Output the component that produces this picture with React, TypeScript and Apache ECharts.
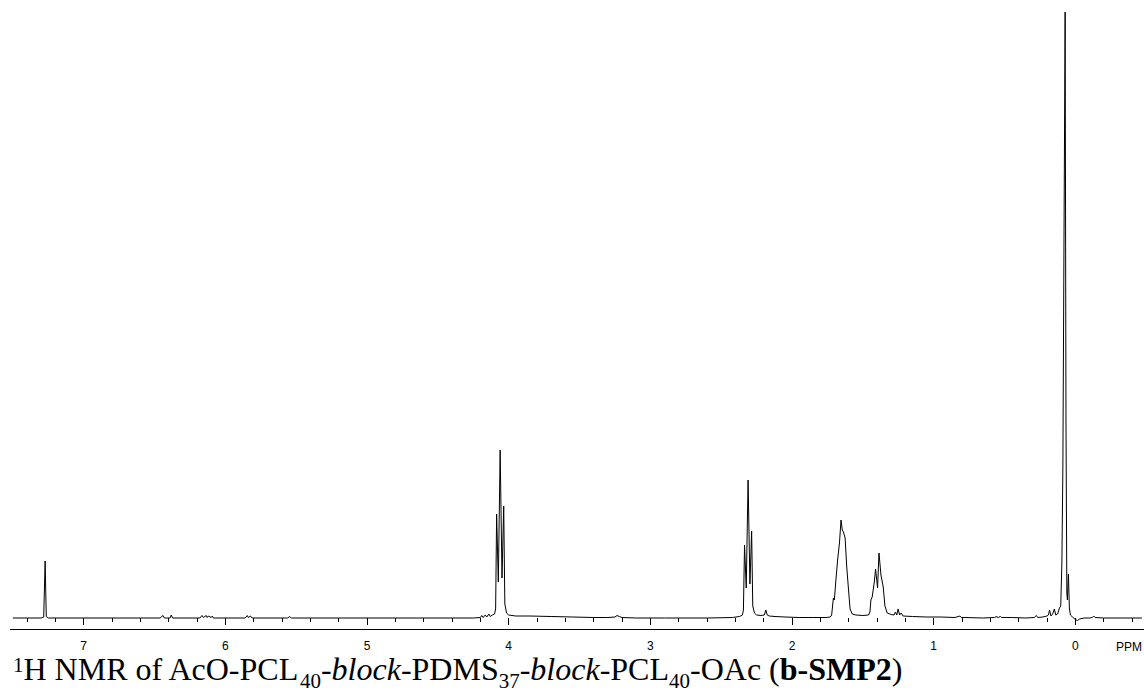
import React, { useEffect, useRef } from "react";
import * as echarts from "echarts";

// Chemical shift (ppm) and intensity (baseline = 0)
const shifts = [
  7.5, 7.3, 7.282, 7.272, 7.264, 7.25,
  6.46, 6.44, 6.43, 6.39, 6.382, 6.372,
  6.18, 6.165, 6.155, 6.135, 6.128, 6.12, 6.1, 6.092, 6.084,
  5.86, 5.845, 5.838, 5.822, 5.815, 5.805,
  5.56, 5.545, 5.535,
  4.25, 4.2, 4.19, 4.18, 4.165, 4.155, 4.14, 4.13, 4.115, 4.1, 4.092,
  4.085, 4.073, 4.06, 4.047, 4.035, 4.027, 4.015, 4.0,
  3.95, 3.85, 3.7, 3.55, 3.4, 3.3, 3.25, 3.235, 3.22, 3.2, 3.1, 2.9, 2.6,
  2.42, 2.37, 2.35, 2.343, 2.335, 2.323, 2.31, 2.297, 2.285, 2.277, 2.265, 2.25,
  2.22, 2.195, 2.185, 2.175, 2.16, 2.12, 2.05, 1.95, 1.85, 1.76,
  1.73, 1.72, 1.708, 1.701, 1.69, 1.678, 1.665, 1.654, 1.645, 1.637, 1.625, 1.614, 1.602, 1.59, 1.575,
  1.55, 1.5, 1.46,
  1.45, 1.443, 1.434, 1.42, 1.41, 1.396, 1.386, 1.372, 1.356, 1.344, 1.328,
  1.3, 1.28, 1.27, 1.26, 1.251, 1.24, 1.23, 1.216,
  1.15, 1.05, 0.95, 0.85, 0.815, 0.805, 0.78, 0.65, 0.57, 0.56, 0.545, 0.53, 0.52, 0.45, 0.35,
  0.29, 0.275, 0.265, 0.23, 0.2, 0.19, 0.182, 0.172, 0.16, 0.148, 0.138, 0.125, 0.112, 0.103,
  0.095, 0.088, 0.08, 0.072, 0.066, 0.06, 0.056, 0.049, 0.042, 0.035, 0.02,
  0.0, -0.015, -0.03, -0.06, -0.1, -0.12, -0.13, -0.14, -0.2, -0.35, -0.47,
];

const intensities = [
  0, 0, 1, 57, 1.5, 0,
  0, 2.5, 0, 0, 3, 0,
  0, 2.5, 0.5, 2.5, 0.5, 2, 0.5, 2, 0,
  0, 2.5, 0.5, 2, 0.5, 0,
  0, 1.5, 0,
  0, 0.5, 2.5, 0.5, 3, 1, 4, 1.5, 3, 4, 9,
  104, 36, 168, 40, 112, 14, 5, 3,
  2, 2, 1.5, 1, 0.5, 0.5, 1, 2.5, 1.5, 0.5, 0, 0, 0,
  0.5, 1.5, 3, 8, 73, 30, 138, 34, 87, 12, 5, 3,
  2.5, 3, 8, 3, 2, 1.5, 1, 0.5, 0.5, 0.5,
  1, 3, 20, 18, 38, 58, 75, 98, 88, 86, 80, 52, 30, 9, 4,
  3, 2.5, 3,
  6, 18, 21, 35, 49, 30, 65, 43, 31, 12, 5,
  3.5, 3, 6, 3, 9, 3, 5, 2,
  1.5, 1, 1, 0.5, 2, 0.5, 0.5, 0, 0.5, 1.5, 0.5, 1.5, 0.5, 0.5, 0,
  0.5, 2.5, 0.5, 1, 2, 3, 8, 2, 4, 9, 3, 4, 10, 12,
  55, 150, 380, 606, 200, 25, 18, 44, 10, 3, 1,
  -1.5, -2.5, -1, 0, 0, 0.5, 2, 0.5, 0, 0, 0,
];

const tickValues = [0, 1, 2, 3, 4, 5, 6, 7];
const axisUnit = "PPM";

// The chart canvas is wider than the page so that the axis runs off both edges
const OFFSET = 61;
const CANVAS_W = 1281;

export default function App() {
  const ref = useRef<HTMLDivElement>(null);

  useEffect(() => {
    if (!ref.current) return;
    document.documentElement.style.overflow = "hidden";
    document.body.style.overflow = "hidden";
    document.body.style.margin = "0";
    const chart = echarts.init(ref.current, null, { renderer: "svg" });
    const data = shifts.map((s, i) => [s, intensities[i]]);

    chart.setOption({
      animation: false,
      backgroundColor: "#ffffff",
      grid: { left: 0, right: 0, top: 10, bottom: 69, containLabel: false },
      xAxis: {
        type: "value",
        inverse: true,
        min: -1,
        max: 8,
        interval: 1,
        axisLine: { show: false },
        axisTick: { show: true, length: 7, lineStyle: { color: "#000", width: 1 } },
        minorTick: { show: true, splitNumber: 5, length: 4, lineStyle: { color: "#000", width: 1 } },
        splitLine: { show: false },
        axisLabel: {
          show: true,
          margin: 11,
          fontSize: 12,
          fontFamily: "Liberation Sans",
          color: "#000",
          formatter: (v: number) => {
            const r = Math.round(v);
            return tickValues.indexOf(r) >= 0 && Math.abs(v - r) < 1e-6 ? String(r) : "";
          },
        },
      },
      yAxis: {
        type: "value",
        min: -11,
        max: 608,
        show: false,
      },
      series: [
        {
          type: "line",
          data,
          showSymbol: false,
          symbol: "none",
          lineStyle: { color: "#000", width: 1 },
          clip: true,
        },
      ],
      graphic: [
        {
          type: "line",
          shape: { x1: 10 + OFFSET, y1: 629.5, x2: 1144 + OFFSET, y2: 629.5 },
          style: { stroke: "#000", lineWidth: 1 },
        },
        {
          type: "text",
          x: 1116 + OFFSET,
          y: 641,
          style: { text: axisUnit, fontSize: 12, fontFamily: "Liberation Sans", fill: "#000", textVerticalAlign: "top" },
        },
        {
          type: "text",
          x: 13 + OFFSET,
          y: 669,
          style: {
            text: "{sup|1}{n|H NMR of AcO-PCL}{sub|40}{n|-}{i|block}{n|-PDMS}{sub|37}{n|-}{i|block}{n|-PCL}{sub|40}{n|-OAc (}{b|b-SMP2}{n|)}",
            textVerticalAlign: "middle",
            rich: {
              n: { fontFamily: "Liberation Serif", fontSize: 32, color: "#000" },
              i: { fontFamily: "Liberation Serif", fontSize: 32, fontStyle: "italic", color: "#000" },
              b: { fontFamily: "Liberation Serif", fontSize: 32, fontWeight: "bold", color: "#000" },
              sub: { fontFamily: "Liberation Serif", fontSize: 21, color: "#000", padding: [24, 0, 0, 0] },
              sup: { fontFamily: "Liberation Serif", fontSize: 21, color: "#000", padding: [0, 0, 8, 0] },
            },
          },
        },
      ],
    });

    return () => chart.dispose();
  }, []);

  return (
    <div
      ref={ref}
      style={{ position: "fixed", left: -OFFSET, top: 0, width: CANVAS_W, height: 698, background: "#fff" }}
    />
  );
}
